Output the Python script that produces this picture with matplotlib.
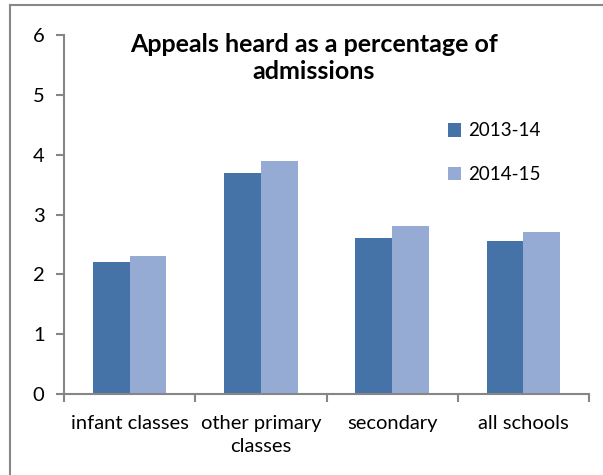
import matplotlib
matplotlib.use("Agg")
import matplotlib.pyplot as plt
import numpy as np
from matplotlib.lines import Line2D

categories = ["infant classes", "other primary\nclasses", "secondary", "all schools"]
series_names = ["2013-14", "2014-15"]
vals_1314 = [2.2, 3.7, 2.6, 2.56]
vals_1415 = [2.3, 3.9, 2.8, 2.7]
colors = ["#4573A7", "#95ABD3"]

plt.rcParams['font.family'] = ['Lato', 'DejaVu Sans']

fig = plt.figure(figsize=(6.03, 4.75), dpi=100)
ax = fig.add_axes([64/603, 1-394/475, 525/603, 359/475])

x = np.arange(len(categories))
w = 0.28
ax.bar(x - w/2, vals_1314, w, color=colors[0], label=series_names[0])
ax.bar(x + w/2, vals_1415, w, color=colors[1], label=series_names[1])

ax.set_xlim(-0.5, len(categories) - 0.5)
ax.set_ylim(0, 6)
ax.set_yticks(range(7))
ax.set_xticks(x)
ax.set_xticklabels(categories, fontsize=14.5, linespacing=1.45)
ax.tick_params(axis='x', length=0, pad=15)
ax.tick_params(axis='y', length=6, width=1.5, color='#868686', labelsize=14.5, pad=8)
# category boundary ticks
ax.set_xticks(np.arange(-0.5, len(categories)), minor=True)
ax.tick_params(axis='x', which='minor', length=6, width=1.5, color='#868686', direction='out')

for s in ['top', 'right']:
    ax.spines[s].set_visible(False)
for s in ['left', 'bottom']:
    ax.spines[s].set_color('#868686')
    ax.spines[s].set_linewidth(1.5)

fig.text(314/603, 1-58/475, "Appeals heard as a percentage of\nadmissions",
         ha='center', va='center', fontsize=18, fontweight='bold', linespacing=1.2)

ax.legend(loc='upper left', bbox_to_anchor=(440/603, 1-115/475), bbox_transform=fig.transFigure,
          frameon=False, fontsize=13.5, handlelength=0.7, handleheight=0.7, handletextpad=0.4,
          labelspacing=1.4, borderaxespad=0)

# chart area border (only left and top show in the crop)
fig.add_artist(Line2D([10/603, 10/603], [0, 1-5/475], color='#888888', lw=1.5, transform=fig.transFigure))
fig.add_artist(Line2D([10/603, 1], [1-5/475, 1-5/475], color='#888888', lw=1.5, transform=fig.transFigure))

fig.savefig("out.png", dpi=100)
